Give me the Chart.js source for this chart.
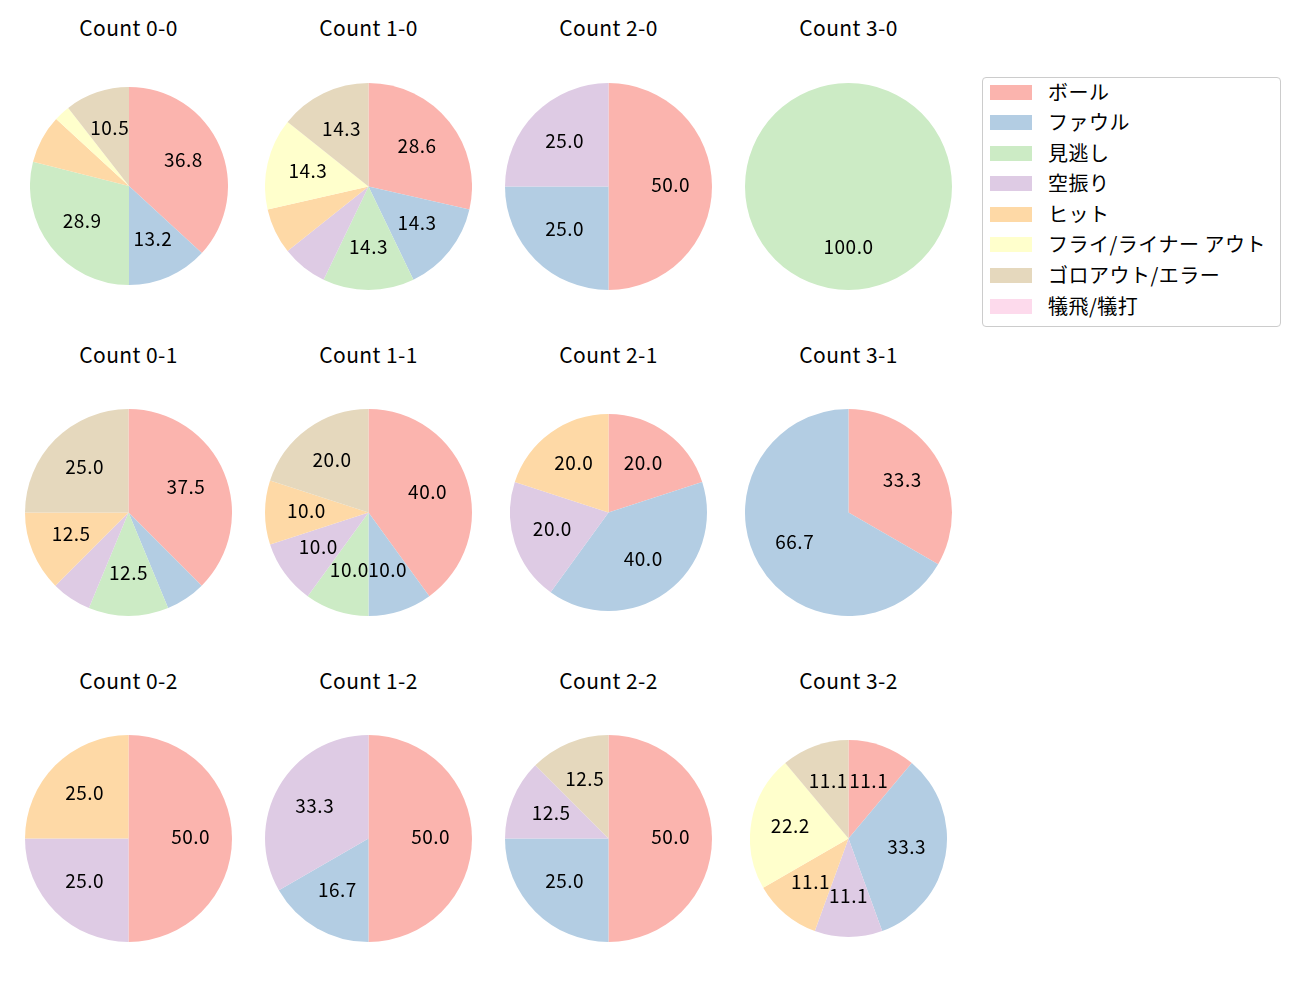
<!DOCTYPE html>
<html>
<head>
<meta charset="utf-8">
<script src="https://cdn.jsdelivr.net/npm/chart.js@4.4.1/dist/chart.umd.min.js"></script>
<style>
  html, body { margin: 0; padding: 0; background: #ffffff; }
  #fig { position: relative; width: 1300px; height: 1000px; background: #ffffff; overflow: hidden;
         font-family: "Noto Sans CJK JP", "Noto Sans", sans-serif; color: #000; }
  .title { position: absolute; width: 240px; text-align: center; font-size: 21px; line-height: 26px; white-space: nowrap; letter-spacing: 0.4px; }
  canvas.pie { position: absolute; }
  #legend { position: absolute; left: 982px; top: 77px; width: 297px; height: 248px;
            border: 1px solid #cccccc; border-radius: 4px; background: #fff; }
  .item { position: absolute; left: 0; height: 30px; }
  .patch { position: absolute; left: 7px; width: 42px; height: 15px; }
  .ltext { position: absolute; left: 65px; font-size: 20px; line-height: 24px; white-space: nowrap; letter-spacing: 0.5px; }
</style>
</head>
<body>
<div id="fig"></div>
<script>
// ---- data ----
const categories = ["ボール", "ファウル", "見逃し", "空振り", "ヒット", "フライ/ライナー アウト", "ゴロアウト/エラー", "犠飛/犠打"];
const colors = ["#fbb4ae", "#b3cde3", "#ccebc5", "#decbe4", "#fed9a6", "#ffffcc", "#e5d8bd", "#fddaec"];

const titles = ["Count 0-0", "Count 1-0", "Count 2-0", "Count 3-0",
                "Count 0-1", "Count 1-1", "Count 2-1", "Count 3-1",
                "Count 0-2", "Count 1-2", "Count 2-2", "Count 3-2"];

const count_0_0 = [14, 5, 11, 0, 3, 1, 4, 0];
const count_1_0 = [4, 2, 2, 1, 1, 2, 2, 0];
const count_2_0 = [2, 1, 0, 1, 0, 0, 0, 0];
const count_3_0 = [0, 0, 1, 0, 0, 0, 0, 0];
const count_0_1 = [6, 1, 2, 1, 2, 0, 4, 0];
const count_1_1 = [4, 1, 1, 1, 1, 0, 2, 0];
const count_2_1 = [1, 2, 0, 1, 1, 0, 0, 0];
const count_3_1 = [1, 2, 0, 0, 0, 0, 0, 0];
const count_0_2 = [2, 0, 0, 1, 1, 0, 0, 0];
const count_1_2 = [3, 1, 0, 2, 0, 0, 0, 0];
const count_2_2 = [4, 2, 0, 1, 0, 0, 1, 0];
const count_3_2 = [1, 3, 0, 1, 1, 2, 1, 0];

const seriesList = [count_0_0, count_1_0, count_2_0, count_3_0,
                    count_0_1, count_1_1, count_2_1, count_3_1,
                    count_0_2, count_1_2, count_2_2, count_3_2];

// ---- layout (positions only) ----
const colX = [128.5, 368.5, 608.5, 848.5];
const rowY = [186, 512.5, 838.5];
const titleY = [14, 341, 667];
const radii = [99, 103.5, 103.5, 103.5,
               103.5, 103.5, 98.5, 103.5,
               103.5, 103.5, 103.5, 98.5];

const pctLabels = {
  id: 'pctLabels',
  afterDatasetsDraw(chart) {
    const ctx = chart.ctx;
    const ds = chart.data.datasets[0].data;
    const total = ds.reduce((a, b) => a + b, 0);
    const meta = chart.getDatasetMeta(0);
    ctx.save();
    ctx.font = '19px "Noto Sans CJK JP", "Noto Sans", sans-serif';
    try { ctx.letterSpacing = '0.5px'; } catch (e) {}
    ctx.fillStyle = '#000';
    ctx.textAlign = 'center';
    ctx.textBaseline = 'middle';
    meta.data.forEach((arc, i) => {
      const pct = ds[i] / total * 100;
      if (pct < 10) return;
      const p = arc.getProps(['x', 'y', 'startAngle', 'endAngle', 'outerRadius'], true);
      const mid = (p.startAngle + p.endAngle) / 2;
      const rr = p.outerRadius * 0.6;
      ctx.fillText(pct.toFixed(1), p.x + Math.cos(mid) * rr, p.y + Math.sin(mid) * rr - 2);
    });
    ctx.restore();
  }
};

function build() {
  const fig = document.getElementById('fig');
  seriesList.forEach((series, k) => {
    const r = Math.floor(k / 4), c = k % 4;
    const cx = colX[c], cy = rowY[r], rad = radii[k];

    const t = document.createElement('div');
    t.className = 'title';
    t.textContent = titles[k];
    t.style.left = (cx - 120) + 'px';
    t.style.top = titleY[r] + 'px';
    fig.appendChild(t);

    const cv = document.createElement('canvas');
    cv.className = 'pie';
    const size = Math.round(rad * 2);
    cv.width = size; cv.height = size;
    cv.style.width = size + 'px'; cv.style.height = size + 'px';
    cv.style.left = (cx - size / 2) + 'px';
    cv.style.top = (cy - size / 2) + 'px';
    fig.appendChild(cv);

    new Chart(cv, {
      type: 'pie',
      data: {
        labels: categories,
        datasets: [{ data: series, backgroundColor: colors, borderWidth: 0, hoverOffset: 0, offset: 0 }]
      },
      options: {
        responsive: false,
        animation: false,
        events: [],
        rotation: 0,
        layout: { padding: 0 },
        plugins: { legend: { display: false }, tooltip: { enabled: false }, title: { display: false } }
      },
      plugins: [pctLabels]
    });
  });

  const lg = document.createElement('div');
  lg.id = 'legend';
  const itemY = [92, 122, 153, 183, 214, 244, 275, 306];
  categories.forEach((name, i) => {
    const it = document.createElement('div');
    it.className = 'item';
    it.style.top = (itemY[i] - 78 - 15) + 'px';
    const p = document.createElement('div');
    p.className = 'patch';
    p.style.background = colors[i];
    p.style.top = '7.5px';
    const tx = document.createElement('div');
    tx.className = 'ltext';
    tx.textContent = name;
    tx.style.top = '3px';
    it.appendChild(p); it.appendChild(tx);
    lg.appendChild(it);
  });
  fig.appendChild(lg);
}

const fontReady = (document.fonts && document.fonts.load)
  ? Promise.all([document.fonts.load('19px "Noto Sans CJK JP"'), document.fonts.load('21px "Noto Sans CJK JP"')]).catch(() => {})
  : Promise.resolve();
fontReady.then(build, build);
</script>
</body>
</html>
